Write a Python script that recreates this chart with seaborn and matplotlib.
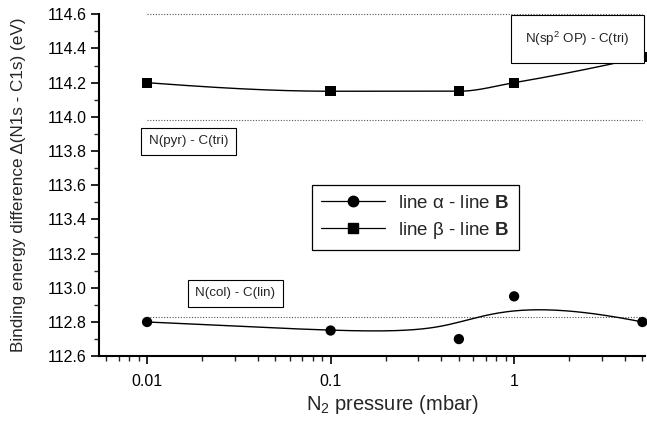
import numpy as np
import pandas as pd
import matplotlib
matplotlib.use("Agg")
import matplotlib.pyplot as plt
import matplotlib.ticker as mticker
from matplotlib.lines import Line2D
import seaborn as sns

# measured data
pressure = [0.01, 0.1, 0.5, 1.0, 5.0]
alpha_B = [112.80, 112.75, 112.70, 112.95, 112.80]
beta_B = [114.20, 114.15, 114.15, 114.20, 114.35]

# reference levels of the bonding configurations
ref_levels = [114.60, 113.98, 112.83]
ref_labels = ["N(sp$^2$ OP) - C(tri)", "N(pyr) - C(tri)", "N(col) - C(lin)"]
ref_label_pos = [(2.21, 114.455), (0.0168, 113.857), (0.0303, 112.968)]
ref_label_pad = [1.1, 0.55, 0.55]

x_ticks = [0.01, 0.1, 1]
x_tick_labels = ["0.01", "0.1", "1"]


def bspline_curve(x, y, n=300):
    """Clamped cubic B-spline using the points as control points."""
    P = np.column_stack([x, y])
    k = 3
    m = len(P)
    inner = np.linspace(0, 1, m - k + 1)[1:-1]
    t = np.concatenate([[0] * (k + 1), inner, [1] * (k + 1)])
    us = np.linspace(0, 1, n)
    out = []
    for u in us:
        if u >= 1:
            out.append(P[-1])
            continue
        j = np.searchsorted(t, u, side="right") - 1
        d = [P[j - k + i].copy() for i in range(k + 1)]
        for r in range(1, k + 1):
            for i in range(k, r - 1, -1):
                a = (u - t[j - k + i]) / (t[j + 1 + i - r] - t[j - k + i])
                d[i] = (1 - a) * d[i - 1] + a * d[i]
        out.append(d[k])
    out = np.array(out)
    return out[:, 0], out[:, 1]


def pchip_curve(x, y, n=300):
    """Shape-preserving piecewise cubic Hermite interpolation."""
    x = np.asarray(x, float)
    y = np.asarray(y, float)
    h = np.diff(x)
    delta = np.diff(y) / h
    N = len(x)
    d = np.zeros(N)
    for i in range(1, N - 1):
        if delta[i - 1] * delta[i] > 0:
            w1 = 2 * h[i] + h[i - 1]
            w2 = h[i] + 2 * h[i - 1]
            d[i] = (w1 + w2) / (w1 / delta[i - 1] + w2 / delta[i])
    d[0] = ((2 * h[0] + h[1]) * delta[0] - h[0] * delta[1]) / (h[0] + h[1])
    if np.sign(d[0]) != np.sign(delta[0]):
        d[0] = 0
    d[-1] = ((2 * h[-1] + h[-2]) * delta[-1] - h[-1] * delta[-2]) / (h[-1] + h[-2])
    if np.sign(d[-1]) != np.sign(delta[-1]):
        d[-1] = 0
    xs = np.linspace(x[0], x[-1], n)
    ys = np.empty_like(xs)
    for k, xv in enumerate(xs):
        i = min(np.searchsorted(x, xv, side="right") - 1, N - 2)
        s = (xv - x[i]) / h[i]
        h00 = 2 * s**3 - 3 * s**2 + 1
        h10 = s**3 - 2 * s**2 + s
        h01 = -2 * s**3 + 3 * s**2
        h11 = s**3 - s**2
        ys[k] = h00 * y[i] + h10 * h[i] * d[i] + h01 * y[i + 1] + h11 * h[i] * d[i + 1]
    return xs, ys


sns.set_style("ticks")
plt.rcParams["font.family"] = ["Liberation Sans", "DejaVu Sans"]
plt.rcParams["mathtext.fontset"] = "custom"
plt.rcParams["mathtext.rm"] = "Liberation Sans"
plt.rcParams["mathtext.it"] = "Liberation Sans:italic"
plt.rcParams["mathtext.bf"] = "Liberation Sans:bold"

fig = plt.figure(figsize=(6.47, 4.21), dpi=100)
ax = fig.add_axes([0.153, 0.154, 0.844, 0.812])

logp = np.log10(pressure)
ax_x, ax_y = bspline_curve(logp, alpha_B)
bx_x, bx_y = pchip_curve(logp, beta_B)
curves = pd.concat([
    pd.DataFrame({"p": 10 ** ax_x, "v": ax_y, "s": "a"}),
    pd.DataFrame({"p": 10 ** bx_x, "v": bx_y, "s": "b"}),
])
pts = pd.DataFrame({
    "p": pressure * 2,
    "v": alpha_B + beta_B,
    "s": ["a"] * len(pressure) + ["b"] * len(pressure),
})

# reference levels
ax.hlines(ref_levels, pressure[0], pressure[-1], colors="#555555",
          linestyles=(0, (1, 1.5)), linewidth=0.8, zorder=1, clip_on=False)

sns.lineplot(data=curves, x="p", y="v", units="s", estimator=None,
             color="black", linewidth=1.0, ax=ax, sort=False, legend=False)
sns.scatterplot(data=pts, x="p", y="v", style="s", markers={"a": "o", "b": "s"},
                color="black", s=55, edgecolor="black", linewidth=0, ax=ax,
                legend=False, zorder=5, clip_on=False)

for txt, (xp, yp), pad in zip(ref_labels, ref_label_pos, ref_label_pad):
    ax.text(xp, yp, txt, ha="center", va="center", fontsize=9.6,
            bbox=dict(boxstyle=f"square,pad={pad}", facecolor="white",
                      edgecolor="black", linewidth=0.8), zorder=6)

ax.set_xscale("log")
ax.set_xlim(0.00547, 5.17)
ax.set_ylim(112.6, 114.6)
ax.set_xticks(x_ticks)
ax.set_xticklabels(x_tick_labels)
ax.xaxis.set_minor_locator(mticker.LogLocator(base=10, subs=np.arange(2, 10)))
ax.xaxis.set_minor_formatter(mticker.NullFormatter())
ax.yaxis.set_major_locator(mticker.MultipleLocator(0.2))
ax.yaxis.set_minor_locator(mticker.MultipleLocator(0.1))
ax.yaxis.set_major_formatter(mticker.FormatStrFormatter("%.1f"))
ax.tick_params(axis="both", which="major", length=6, width=1.2, labelsize=11.5,
               direction="out", color="black", labelcolor="black")
ax.tick_params(axis="both", which="minor", length=3.5, width=1.0, direction="out")
ax.tick_params(axis="x", which="major", pad=7)
ax.tick_params(axis="y", which="major", pad=3)

sns.despine(ax=ax)
for sp in ("left", "bottom"):
    ax.spines[sp].set_linewidth(1.5)
    ax.spines[sp].set_color("black")

ax.set_xlabel("N$_2$ pressure (mbar)", fontsize=14.5)
ax.set_ylabel("Binding energy difference \u0394(N1s - C1s) (eV)", fontsize=12.3)
ax.xaxis.set_label_coords(0.537, -0.108)
ax.yaxis.set_label_coords(-0.133, 0.5)

handles = [
    Line2D([], [], color="black", linewidth=0.9, marker="o", markersize=7.5,
           label="line \u03b1 - line $\\mathbf{B}$"),
    Line2D([], [], color="black", linewidth=0.9, marker="s", markersize=7,
           label="line \u03b2 - line $\\mathbf{B}$"),
]
leg = ax.legend(handles=handles, loc="upper left",
                bbox_to_anchor=(312 / 647, 1 - 185 / 421),
                bbox_transform=fig.transFigure, borderaxespad=0,
                fontsize=13.5, handlelength=3.4, handletextpad=0.7,
                borderpad=0.5, labelspacing=0.45, fancybox=False,
                frameon=True, framealpha=1, edgecolor="black")
leg.get_frame().set_linewidth(0.9)

fig.savefig("out.png", dpi=100)
